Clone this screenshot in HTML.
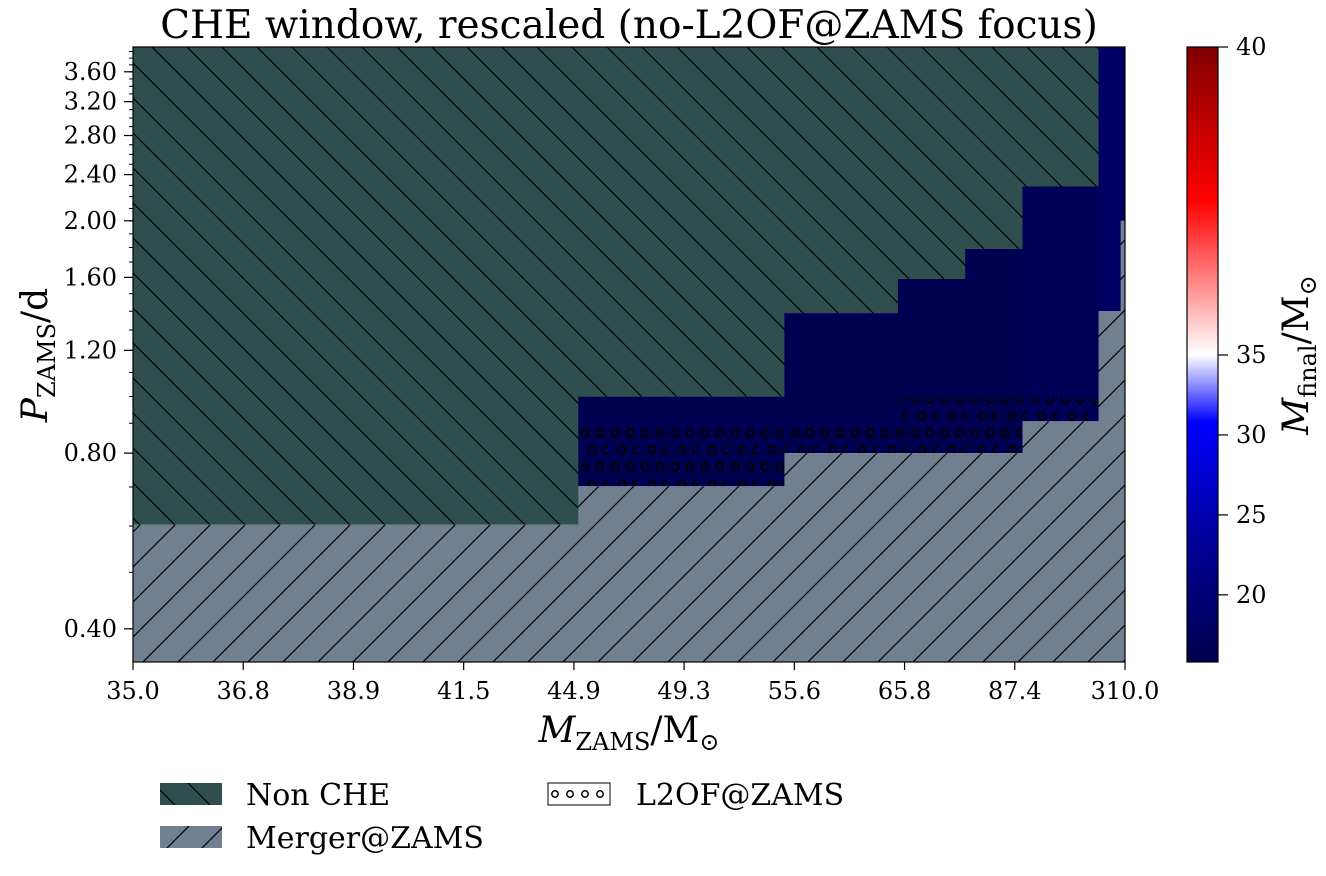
<!DOCTYPE html>
<html><head><meta charset="utf-8">
<style>
body{margin:0;background:#fff;}
svg{display:block;font-family:"DejaVu Serif","Liberation Serif",serif;}
</style></head>
<body>
<svg id="chart" width="1326" height="876" viewBox="0 0 1326 876">
<defs>
<pattern id="hatchBack" patternUnits="userSpaceOnUse" width="35" height="35">
<rect width="35" height="35" fill="#2f4f4f"/>
<path d="M0,0 L35,35 M-35,0 L0,35 M35,0 L70,35" stroke="#000" stroke-width="1.2"/>
</pattern>
<pattern id="hatchFwd" patternUnits="userSpaceOnUse" width="35" height="35">
<rect width="35" height="35" fill="#708090"/>
<path d="M0,35 L35,0 M-35,35 L0,0 M35,35 L70,0" stroke="#000" stroke-width="1.2"/>
</pattern>
<pattern id="dots" patternUnits="userSpaceOnUse" width="30" height="34" x="578" y="428">
<circle cx="7" cy="5" r="3.8" fill="none" stroke="#000" stroke-width="1.8"/>
<circle cx="22" cy="5" r="3.8" fill="none" stroke="#000" stroke-width="1.8"/>
<circle cx="14" cy="22" r="3.8" fill="none" stroke="#000" stroke-width="1.8"/>
<circle cx="29" cy="22" r="3.8" fill="none" stroke="#000" stroke-width="1.8"/>
</pattern>
<pattern id="dotsLeg" patternUnits="userSpaceOnUse" width="15" height="22" x="548" y="783">
<circle cx="7" cy="11" r="3.2" fill="none" stroke="#000" stroke-width="1.5"/>
</pattern>
<linearGradient id="cbar" x1="0" y1="1" x2="0" y2="0">
<stop offset="0" stop-color="#00004c"/>
<stop offset="0.2" stop-color="#00009a"/>
<stop offset="0.39" stop-color="#0000ff"/>
<stop offset="0.5" stop-color="#ffffff"/>
<stop offset="0.75" stop-color="#ff0000"/>
<stop offset="1" stop-color="#800000"/>
</linearGradient>
</defs>
<g id="plot"></g>
<g id="axes"></g>
</svg>
<script>
// ---- data ----
const xTickLabels = ["35.0","36.8","38.9","41.5","44.9","49.3","55.6","65.8","87.4","310.0"];
const yTicks = [0.40,0.80,1.20,1.60,2.00,2.40,2.80,3.20,3.60];
// column edges in x-index units
const colStart = [0, 4.04, 5.91, 6.94, 7.55, 8.07, 8.76, 8.96];
const colEnd   = [4.04, 5.91, 6.94, 7.55, 8.07, 8.76, 8.96, 9.0];
// top of Merger@ZAMS region (P in days)
const mergerTop = [0.603, 0.702, 0.80, 0.80, 0.80, 0.907, 1.40, 2.00];
// top of CHE (blue) region; null means none
const cheTop = [null, 1.0, 1.39, 1.59, 1.79, 2.29, 3.97, 3.97];
// L2OF@ZAMS band top (bottom = mergerTop)
const l2ofTop = [null, 0.886, 0.886, 1.0, 1.0, 1.0, null, null];
// final mass in CHE cells
const cheMass = [null, 16.0, 16.0, 16.0, 16.0, 16.2, 16.8, 16.8];
const cbTicks = [20,25,30,35,40];

const X0=133,X1=1125,Y0=47,Y1=662;
const PMIN=0.351,PMAX=3.97;
const sx = v => X0 + v/9*(X1-X0);
const sy = p => Y1 - (Math.log(p)-Math.log(PMIN))/(Math.log(PMAX)-Math.log(PMIN))*(Y1-Y0);
const VMIN=15.8,VC=35,VMAX=40;
const cy = v => v<=VC ? Y1-(v-VMIN)/(VC-VMIN)*(Y1-355) : 355-(v-VC)/(VMAX-VC)*(355-Y0);
function massColor(v){
  const t=(v-VMIN)/(VC-VMIN);
  let b = t<0.4 ? 0.3+ t/0.4*0.7 : 1;
  return "rgb(0,0,"+Math.round(b*255)+")";
}
const NS="http://www.w3.org/2000/svg";
function mk(tag,attrs,parent){const e=document.createElementNS(NS,tag);for(const k in attrs)e.setAttribute(k,attrs[k]);parent.appendChild(e);return e;}
const plot=document.getElementById('plot'), axes=document.getElementById('axes');

for(let i=0;i<colStart.length;i++){
  const x=sx(colStart[i]), w=sx(colEnd[i])-x;
  const top = cheTop[i]===null ? mergerTop[i] : cheTop[i];
  const nc=mk('rect',{x:x,y:Y0,width:w+0.5,height:sy(top)-Y0,fill:'url(#hatchBack)'},plot);
  
  
  if(cheTop[i]!==null){
    const c=mk('rect',{x:x,y:sy(cheTop[i]),width:w+0.5,height:sy(mergerTop[i])-sy(cheTop[i]),fill:massColor(cheMass[i])},plot);
    
    
  }
  if(l2ofTop[i]!==null){
    const l=mk('rect',{x:x,y:sy(l2ofTop[i]),width:w+0.5,height:sy(mergerTop[i])-sy(l2ofTop[i]),fill:'url(#dots)'},plot);
    
    
  }
  const m=mk('rect',{x:x,y:sy(mergerTop[i]),width:w+0.5,height:Y1-sy(mergerTop[i]),fill:'url(#hatchFwd)'},plot);
  
  
}
const frame=mk('rect',{x:X0,y:Y0,width:X1-X0,height:Y1-Y0,fill:'none',stroke:'#000','stroke-width':1.2},axes);



// x ticks
xTickLabels.forEach((lab,i)=>{
  const x=sx(i);
  mk('line',{x1:x,y1:Y1,x2:x,y2:Y1+8,stroke:'#000','stroke-width':1.2},axes);
  const t=mk('text',{x:x,y:Y1+37,'text-anchor':'middle','font-size':24},axes);
  t.textContent=lab;
  
  
});
// y minor ticks
for(let k=4;k<=39;k++){const p=k/10; if(p<PMIN||p>PMAX) continue; const y=sy(p);
  mk('line',{x1:X0,y1:y,x2:X0-4,y2:y,stroke:'#000','stroke-width':1},axes);}
yTicks.forEach(p=>{
  const y=sy(p);
  mk('line',{x1:X0,y1:y,x2:X0-9,y2:y,stroke:'#000','stroke-width':1.2},axes);
  const t=mk('text',{x:X0-16,y:y+8,'text-anchor':'end','font-size':24},axes);
  t.textContent=p.toFixed(2);
  
  
});
// colorbar
const cb=mk('rect',{x:1187,y:Y0,width:31,height:Y1-Y0,fill:'url(#cbar)',stroke:'#000','stroke-width':1.2},axes);


cbTicks.forEach(v=>{
  const y=cy(v);
  mk('line',{x1:1218,y1:y,x2:1228,y2:y,stroke:'#000','stroke-width':1.2},axes);
  const t=mk('text',{x:1236,y:y+8,'font-size':24},axes);
  t.textContent=v;
  
  
});
</script>
<script>
const S=document.getElementById('chart');
S.insertAdjacentHTML('beforeend',`
<text x="629" y="38" text-anchor="middle" font-size="39">CHE window, rescaled (no-L2OF@ZAMS focus)</text>
<text x="629" y="742" text-anchor="middle" font-size="36"><tspan font-style="italic">M</tspan><tspan font-size="24" dy="8">ZAMS</tspan><tspan dy="-8">/M</tspan><tspan font-size="24" dy="8">⊙</tspan></text>
<text transform="translate(47,355) rotate(-90)" text-anchor="middle" font-size="36"><tspan font-style="italic">P</tspan><tspan font-size="24" dy="8">ZAMS</tspan><tspan dy="-8">/d</tspan></text>
<text transform="translate(1308,355) rotate(-90)" text-anchor="middle" font-size="36"><tspan font-style="italic">M</tspan><tspan font-size="24" dy="8">final</tspan><tspan dy="-8">/M</tspan><tspan font-size="24" dy="8">⊙</tspan></text>
<g>
<rect x="160" y="783" width="62" height="22" fill="url(#hatchBack)"/>
<text x="246" y="805" font-size="30">Non CHE</text>
<rect x="160" y="826" width="62" height="22" fill="url(#hatchFwd)"/>
<text x="246" y="848" font-size="30">Merger@ZAMS</text>
<rect x="548" y="783" width="62" height="22" fill="url(#dotsLeg)" stroke="#000" stroke-width="1"/>
<text x="636" y="805" font-size="30">L2OF@ZAMS</text>
</g>`);
</script>
</body></html>
